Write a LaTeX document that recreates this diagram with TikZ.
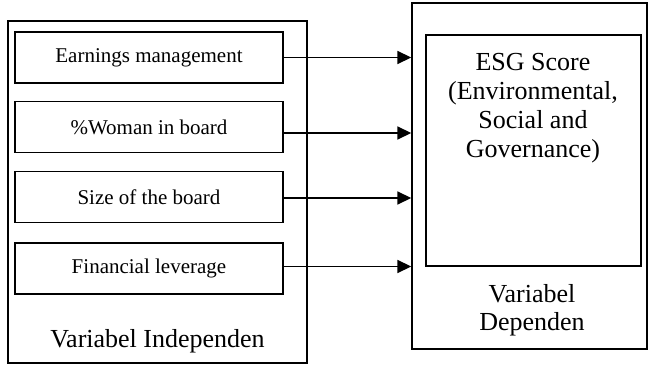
\documentclass[tikz,border=0pt]{standalone}
\usepackage{fontspec}
\setmainfont{Liberation Serif}
\usetikzlibrary{arrows.meta}
\begin{document}
\begin{tikzpicture}[x=1pt,y=-1pt,
  box/.style={draw, line width=1.4pt, inner sep=0pt},
  var/.style={box, minimum width=268pt, minimum height=51pt, font=\fontsize{21}{24}\selectfont},
  big/.style={font=\fontsize{26}{28}\selectfont, inner sep=0pt},
  arr/.style={line width=1.7pt, -{Triangle[length=14pt,width=13pt]}}]
\useasboundingbox (0,0) rectangle (648,366);
% outer boxes
\node[box, minimum width=299pt, minimum height=342pt] (indep) at (157.5,192) {};
\node[box, minimum width=235pt, minimum height=346pt] (dep) at (529.5,176) {};
% independent variables
\node[var] (b1) at (149,57.5) {Earnings management};
\node[var] (b2) at (149,127) {\%Woman in board};
\node[var] (b3) at (149,197) {Size of the board};
\node[var] (b4) at (149,268.5) {Financial leverage};
\node[big, anchor=base] (indeplabel) at (157.5,347) {Variabel Independen};
% dependent variable
\node[box, minimum width=215pt, minimum height=231pt] (esg) at (533.5,150.5) {};
\node[big, anchor=north, align=center, font=\fontsize{26}{29}\selectfont] (esgtext) at (533,53.5)
  {ESG Score\\(Environmental,\\Social and\\Governance)};
\node[big, anchor=north, align=center] (deplabel) at (532,284) {Variabel\\Dependen};
% arrows
\draw[arr] (b1.east) -- (b1.east -| dep.west);
\draw[arr] ([yshift=-6pt]b2.east) -- ([yshift=-6pt]b2.east -| dep.west);
\draw[arr] ([yshift=-1pt]b3.east) -- ([yshift=-1pt]b3.east -| dep.west);
\draw[arr] ([yshift=2pt]b4.east) -- ([yshift=2pt]b4.east -| dep.west);
\end{tikzpicture}
\end{document}
